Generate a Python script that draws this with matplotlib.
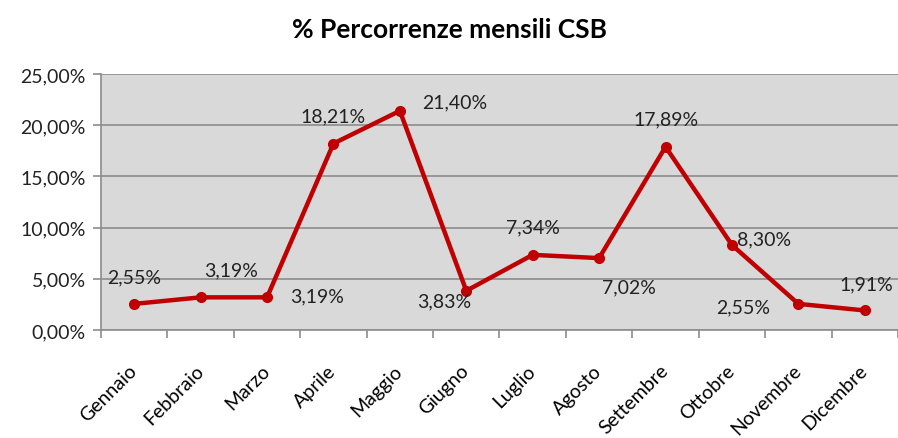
import matplotlib
matplotlib.use("Agg")
from matplotlib import pyplot as plt
from matplotlib.ticker import FuncFormatter, MultipleLocator
import numpy as np

mesi = ["Gennaio", "Febbraio", "Marzo", "Aprile", "Maggio", "Giugno",
        "Luglio", "Agosto", "Settembre", "Ottobre", "Novembre", "Dicembre"]
percorrenze = [2.55, 3.19, 3.19, 18.21, 21.40, 3.83, 7.34, 7.02, 17.89, 8.30, 2.55, 1.91]
# label offsets in pixels (dx, dy) from each point, like excel's placement
label_off = [(0, 27), (30, 27), (50, 1), (0, 28), (55, 9), (-22, -10),
             (0, 28), (30, -29), (0, 28), (32, 6), (-55, -3), (2, 27)]

plt.rcParams['font.family'] = ['Lato', 'DejaVu Sans']

fig = plt.figure(figsize=(8.98, 4.39), dpi=100)
ax = fig.add_axes([101 / 898, 1 - 331 / 439, 797 / 898, 256 / 439])
ax.set_facecolor("#d9d9d9")

x = np.arange(len(mesi))
red = "#c00000"
ax.plot(x, percorrenze, color=red, lw=3.2, marker="o", ms=7, solid_joinstyle="round", zorder=3)

for xi, v, (dx, dy) in zip(x, percorrenze, label_off):
    ax.annotate(f"{v:.2f}%".replace(".", ","), (xi, v), xytext=(dx * 0.72, dy * 0.72),
                textcoords="offset points", ha="center", va="center",
                fontsize=14, color="#222222", zorder=4)

ax.set_xlim(-0.5, len(mesi) - 0.5)
ax.set_ylim(0, 25)
ax.yaxis.set_major_locator(MultipleLocator(5))
ax.yaxis.set_major_formatter(FuncFormatter(lambda v, p: f"{v:.2f}%".replace(".", ",")))
ax.grid(axis="y", color="#8c8c8c", lw=1.2, zorder=1)
ax.set_axisbelow(True)

ax.set_xticks(x)
ax.set_xticklabels(mesi, rotation=45, ha="right", va="center", rotation_mode="anchor", fontsize=14)
ax.tick_params(axis="x", which="major", length=0, pad=27)
ax.set_xticks(np.arange(-0.5, len(mesi)), minor=True)
ax.tick_params(axis="x", which="minor", length=6, color="#8c8c8c", width=1.2)
ax.tick_params(axis="y", length=6, color="#8c8c8c", width=1.2, labelsize=14, labelcolor="#222222", pad=5)

for s in ["top", "right"]:
    ax.spines[s].set_visible(False)
for s in ["left", "bottom"]:
    ax.spines[s].set_color("#8c8c8c")
    ax.spines[s].set_linewidth(1.2)

fig.suptitle("% Percorrenze mensili CSB", x=0.5, y=0.96, fontsize=19, fontweight="bold")

plt.savefig("out.png", dpi=100)
